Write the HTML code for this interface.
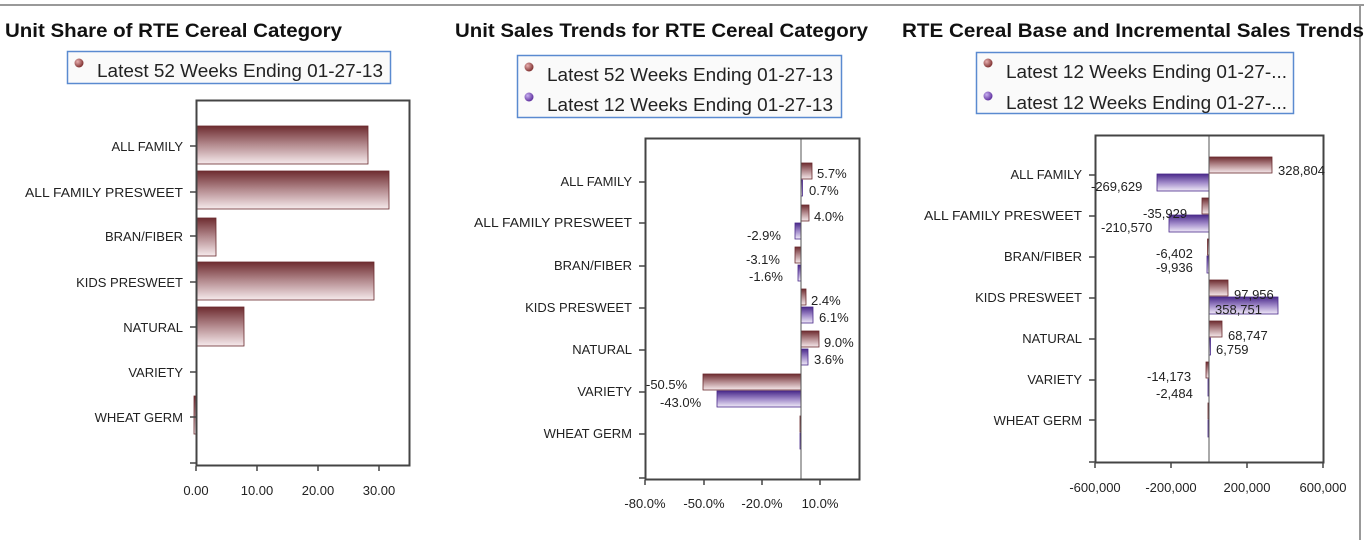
<!DOCTYPE html>
<html><head><meta charset="utf-8"><style>
html,body{margin:0;padding:0;background:#fff;}
svg{display:block;font-family:"Liberation Sans",Arial,sans-serif;}
</style></head><body>
<svg width="1364" height="540" viewBox="0 0 1364 540" xmlns="http://www.w3.org/2000/svg">
<defs>
<linearGradient id="r" x1="0" y1="0" x2="0" y2="1"><stop offset="0" stop-color="#6e2c30"/><stop offset="0.5" stop-color="#b58c90"/><stop offset="1" stop-color="#f6eaec"/></linearGradient>
<linearGradient id="p" x1="0" y1="0" x2="0" y2="1"><stop offset="0" stop-color="#4a2a8a"/><stop offset="0.5" stop-color="#9f88c8"/><stop offset="1" stop-color="#f0eaf8"/></linearGradient>
<radialGradient id="rd" cx="0.35" cy="0.35" r="0.7"><stop offset="0" stop-color="#e8b0b0"/><stop offset="1" stop-color="#7a2a2a"/></radialGradient>
<radialGradient id="pd" cx="0.35" cy="0.35" r="0.7"><stop offset="0" stop-color="#c8b0f0"/><stop offset="1" stop-color="#5a2a9a"/></radialGradient>
</defs>
<line x1="0" y1="5" x2="1364" y2="5" stroke="#999" stroke-width="2"/>
<line x1="1360" y1="5" x2="1360" y2="540" stroke="#999" stroke-width="2"/>

<!-- Chart 1 -->
<text x="5" y="37" font-size="19" font-weight="bold" textLength="337" lengthAdjust="spacingAndGlyphs" fill="#111">Unit Share of RTE Cereal Category</text>
<rect x="67.5" y="51.5" width="323" height="32" fill="#fafafa" stroke="#5a8ad0" stroke-width="1.5"/>
<circle cx="79" cy="63" r="4.5" fill="url(#rd)"/>
<text x="97" y="77" font-size="18" textLength="286" lengthAdjust="spacingAndGlyphs" fill="#222">Latest 52 Weeks Ending 01-27-13</text>
<g font-size="13" fill="#222" text-anchor="end">
<text x="183" y="151">ALL FAMILY</text>
<text x="183" y="197" textLength="158" lengthAdjust="spacingAndGlyphs">ALL FAMILY PRESWEET</text>
<text x="183" y="241">BRAN/FIBER</text>
<text x="183" y="287">KIDS PRESWEET</text>
<text x="183" y="332">NATURAL</text>
<text x="183" y="377">VARIETY</text>
<text x="183" y="422">WHEAT GERM</text>
</g>
<g fill="url(#r)" stroke="#6a2a2e" stroke-width="0.8">
<rect x="197" y="126" width="171" height="38"/>
<rect x="197" y="171" width="192" height="38"/>
<rect x="197" y="218" width="19" height="38"/>
<rect x="197" y="262" width="177" height="38"/>
<rect x="197" y="307" width="47" height="39"/>
<rect x="196" y="352" width="1" height="38"/>
<rect x="194" y="396" width="2" height="38"/>
</g>
<rect x="196.5" y="100.5" width="213" height="365" fill="none" stroke="#444" stroke-width="2"/>
<g stroke="#444" stroke-width="1.5">
<line x1="190" y1="146" x2="196" y2="146"/><line x1="190" y1="192" x2="196" y2="192"/><line x1="190" y1="236" x2="196" y2="236"/><line x1="190" y1="282" x2="196" y2="282"/><line x1="190" y1="327" x2="196" y2="327"/><line x1="190" y1="372" x2="196" y2="372"/><line x1="190" y1="417" x2="196" y2="417"/><line x1="190" y1="463" x2="196" y2="463"/>
<line x1="196" y1="466" x2="196" y2="471"/><line x1="257" y1="466" x2="257" y2="471"/><line x1="318" y1="466" x2="318" y2="471"/><line x1="379" y1="466" x2="379" y2="471"/>
</g>
<g font-size="13" fill="#222" text-anchor="middle">
<text x="196" y="495">0.00</text><text x="257" y="495">10.00</text><text x="318" y="495">20.00</text><text x="379" y="495">30.00</text>
</g>

<!-- Chart 2 -->
<text x="455" y="37" font-size="19" font-weight="bold" textLength="413" lengthAdjust="spacingAndGlyphs" fill="#111">Unit Sales Trends for RTE Cereal Category</text>
<rect x="517.5" y="55.5" width="324" height="62" fill="#fafafa" stroke="#5a8ad0" stroke-width="1.5"/>
<circle cx="529" cy="67" r="4.5" fill="url(#rd)"/>
<circle cx="529" cy="97" r="4.5" fill="url(#pd)"/>
<text x="547" y="81" font-size="18" textLength="286" lengthAdjust="spacingAndGlyphs" fill="#222">Latest 52 Weeks Ending 01-27-13</text>
<text x="547" y="111" font-size="18" textLength="286" lengthAdjust="spacingAndGlyphs" fill="#222">Latest 12 Weeks Ending 01-27-13</text>
<g font-size="13" fill="#222" text-anchor="end">
<text x="632" y="186">ALL FAMILY</text>
<text x="632" y="227" textLength="158" lengthAdjust="spacingAndGlyphs">ALL FAMILY PRESWEET</text>
<text x="632" y="270">BRAN/FIBER</text>
<text x="632" y="312">KIDS PRESWEET</text>
<text x="632" y="354">NATURAL</text>
<text x="632" y="396">VARIETY</text>
<text x="632" y="438">WHEAT GERM</text>
</g>
<g fill="url(#r)" stroke="#6a2a2e" stroke-width="0.8">
<rect x="801" y="163" width="11" height="16"/>
<rect x="801" y="205" width="8" height="16"/>
<rect x="795" y="247" width="6" height="16"/>
<rect x="801" y="289" width="5" height="16"/>
<rect x="801" y="331" width="18" height="16"/>
<rect x="703" y="374" width="98" height="16"/>
<rect x="800" y="416" width="1" height="16"/>
</g>
<g fill="url(#p)" stroke="#4a2a8a" stroke-width="0.8">
<rect x="801" y="180" width="1.5" height="16"/>
<rect x="795" y="223" width="6" height="16"/>
<rect x="798" y="265" width="3" height="16"/>
<rect x="801" y="307" width="12" height="16"/>
<rect x="801" y="349" width="7" height="16"/>
<rect x="717" y="391" width="84" height="16"/>
<rect x="800" y="433" width="1" height="16"/>
</g>
<line x1="801" y1="138" x2="801" y2="479" stroke="#555" stroke-width="1"/>
<rect x="645.5" y="138.5" width="214" height="341" fill="none" stroke="#444" stroke-width="2"/>
<g stroke="#444" stroke-width="1.5">
<line x1="639" y1="182" x2="645" y2="182"/><line x1="639" y1="223" x2="645" y2="223"/><line x1="639" y1="266" x2="645" y2="266"/><line x1="639" y1="308" x2="645" y2="308"/><line x1="639" y1="350" x2="645" y2="350"/><line x1="639" y1="392" x2="645" y2="392"/><line x1="639" y1="434" x2="645" y2="434"/><line x1="639" y1="478" x2="645" y2="478"/>
<line x1="645" y1="480" x2="645" y2="485"/><line x1="704" y1="480" x2="704" y2="485"/><line x1="762" y1="480" x2="762" y2="485"/><line x1="820" y1="480" x2="820" y2="485"/>
</g>
<g font-size="13" fill="#222" text-anchor="middle">
<text x="645" y="508">-80.0%</text><text x="704" y="508">-50.0%</text><text x="762" y="508">-20.0%</text><text x="820" y="508">10.0%</text>
</g>
<g font-size="13" fill="#222">
<text x="817" y="178">5.7%</text><text x="809" y="195">0.7%</text>
<text x="814" y="221">4.0%</text><text x="747" y="240">-2.9%</text>
<text x="746" y="264">-3.1%</text><text x="749" y="281">-1.6%</text>
<text x="811" y="305">2.4%</text><text x="819" y="322">6.1%</text>
<text x="824" y="347">9.0%</text><text x="814" y="364">3.6%</text>
<text x="646" y="389">-50.5%</text><text x="660" y="407">-43.0%</text>
</g>

<!-- Chart 3 -->
<text x="902" y="37" font-size="19" font-weight="bold" textLength="462" lengthAdjust="spacingAndGlyphs" fill="#111">RTE Cereal Base and Incremental Sales Trends</text>
<rect x="976.5" y="52.5" width="317" height="61" fill="#fafafa" stroke="#5a8ad0" stroke-width="1.5"/>
<circle cx="988" cy="63" r="4.5" fill="url(#rd)"/>
<circle cx="988" cy="96" r="4.5" fill="url(#pd)"/>
<text x="1006" y="78" font-size="18" textLength="281" lengthAdjust="spacingAndGlyphs" fill="#222">Latest 12 Weeks Ending 01-27-...</text>
<text x="1006" y="109" font-size="18" textLength="281" lengthAdjust="spacingAndGlyphs" fill="#222">Latest 12 Weeks Ending 01-27-...</text>
<g font-size="13" fill="#222" text-anchor="end">
<text x="1082" y="179">ALL FAMILY</text>
<text x="1082" y="220" textLength="158" lengthAdjust="spacingAndGlyphs">ALL FAMILY PRESWEET</text>
<text x="1082" y="261">BRAN/FIBER</text>
<text x="1082" y="302">KIDS PRESWEET</text>
<text x="1082" y="343">NATURAL</text>
<text x="1082" y="384">VARIETY</text>
<text x="1082" y="425">WHEAT GERM</text>
</g>
<g fill="url(#r)" stroke="#6a2a2e" stroke-width="0.8">
<rect x="1209" y="157" width="63" height="16"/>
<rect x="1202" y="198" width="7" height="16"/>
<rect x="1207.5" y="239" width="1.5" height="16"/>
<rect x="1209" y="280" width="19" height="16"/>
<rect x="1209" y="321" width="13" height="16"/>
<rect x="1206" y="362" width="3" height="16"/>
<rect x="1208" y="403" width="1" height="16"/>
</g>
<g fill="url(#p)" stroke="#4a2a8a" stroke-width="0.8">
<rect x="1157" y="174" width="52" height="17"/>
<rect x="1169" y="215" width="40" height="17"/>
<rect x="1207" y="256" width="2" height="17"/>
<rect x="1209" y="297" width="69" height="17"/>
<rect x="1209" y="338" width="1.5" height="17"/>
<rect x="1208" y="379" width="1" height="17"/>
<rect x="1208" y="420" width="1" height="17"/>
</g>
<line x1="1209" y1="136" x2="1209" y2="462" stroke="#555" stroke-width="1"/>
<rect x="1095.5" y="135.5" width="228" height="327" fill="none" stroke="#444" stroke-width="2"/>
<g stroke="#444" stroke-width="1.5">
<line x1="1089" y1="175" x2="1095" y2="175"/><line x1="1089" y1="216" x2="1095" y2="216"/><line x1="1089" y1="257" x2="1095" y2="257"/><line x1="1089" y1="298" x2="1095" y2="298"/><line x1="1089" y1="339" x2="1095" y2="339"/><line x1="1089" y1="380" x2="1095" y2="380"/><line x1="1089" y1="420" x2="1095" y2="420"/><line x1="1089" y1="462" x2="1095" y2="462"/>
<line x1="1095" y1="463" x2="1095" y2="468"/><line x1="1171" y1="463" x2="1171" y2="468"/><line x1="1247" y1="463" x2="1247" y2="468"/><line x1="1323" y1="463" x2="1323" y2="468"/>
</g>
<g font-size="13" fill="#222" text-anchor="middle">
<text x="1095" y="492">-600,000</text><text x="1171" y="492">-200,000</text><text x="1247" y="492">200,000</text><text x="1323" y="492">600,000</text>
</g>
<g font-size="13" fill="#222">
<text x="1278" y="175">328,804</text><text x="1091" y="191">-269,629</text>
<text x="1143" y="218">-35,929</text><text x="1101" y="232">-210,570</text>
<text x="1156" y="258">-6,402</text><text x="1156" y="272">-9,936</text>
<text x="1234" y="299">97,956</text><text x="1215" y="314">358,751</text>
<text x="1228" y="340">68,747</text><text x="1216" y="354">6,759</text>
<text x="1147" y="381">-14,173</text><text x="1156" y="398">-2,484</text>
</g>
</svg>
</body></html>
